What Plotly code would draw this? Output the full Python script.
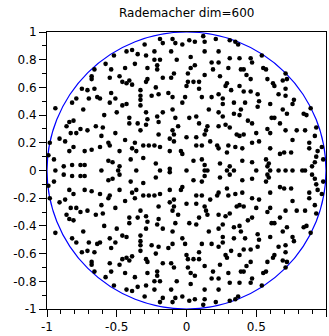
import plotly.graph_objects as go

# The matrix is real, so the spectrum is symmetric: each one has a conjugate below the axis.
re_upper = [
    -0.43, -0.39, -0.52, -0.58, -0.66, -0.54, -0.44, -0.68, -0.68, -0.55, -0.48, -0.46,
    -0.43, -0.41, -0.39, -0.75, -0.71, -0.66, -0.54, -0.64, -0.62, -0.79, -0.70, -0.51,
    -0.30, -0.19, -0.17, -0.10, -0.08, -0.03, 0.02, 0.06, 0.12, 0.13, 0.21, 0.31,
    -0.23, -0.11, 0.13, 0.23, -0.35, -0.29, 0.03, -0.23, -0.19, -0.21, -0.07, 0.31,
    -0.37, -0.28, 0.06, 0.03, 0.18, 0.23, -0.21, 0.19, -0.09, -0.11, -0.17, 0.01,
    0.13, 0.24, -0.28, -0.29, 0.01, 0.05, 0.09, 0.00, 0.29, 0.28, -0.22, -0.33,
    0.09, -0.13, -0.33, -0.20, -0.25, -0.10, -0.01, 0.11, 0.18, 0.23, 0.26, -0.33,
    0.35, 0.37, 0.54, 0.38, 0.46, 0.47, 0.30, 0.39, 0.41, 0.55, 0.57, 0.43,
    0.46, 0.71, 0.58, 0.62, 0.63, 0.69, 0.72, 0.38, 0.32, 0.41, 0.46, 0.51,
    0.66, 0.71, 0.71, 0.77,
    -0.82, -0.94, -0.55, -0.46, -0.43, -0.74, -0.50, -0.59, -0.81, -0.84, -0.86, -0.41,
    -0.41, -0.65, -0.60, -0.76, -0.71, -0.83, -0.79, -0.51, -0.91, -0.87, -0.61, -0.44,
    -0.98, -0.56, -0.55, -0.81, -0.84, -0.73, -0.68, -0.62, -0.48, -0.39, -0.99, -0.95,
    -0.56, -0.53, -0.40, -0.88, -0.82, -0.76, -0.73, -0.48,
    -0.33, -0.03, 0.26, -0.29, -0.17, -0.21, -0.20, -0.28, -0.10, -0.08, 0.02, 0.07,
    0.16, 0.23, 0.26, -0.35, -0.29, -0.33, -0.06, 0.09, 0.15, 0.23, 0.28, 0.31,
    -0.10, -0.09, -0.12, -0.09, -0.20, 0.00, 0.07, 0.13, 0.14, 0.17, -0.37, -0.31,
    -0.27, -0.23, -0.19, 0.07, 0.11, 0.22, 0.23, -0.36, -0.12, -0.04, -0.03, 0.29,
    -0.31, 0.05, 0.11, 0.24, 0.13, -0.22, 0.31, -0.12,
    0.34, 0.42, 0.52, 0.60, 0.76, 0.34, 0.39, 0.38, 0.51, 0.69, 0.72, 0.84,
    0.86, 0.89, 0.44, 0.47, 0.61, 0.63, 0.67, 0.36, 0.38, 0.41, 0.50, 0.58,
    0.60, 0.71, 0.79, 0.85, 0.93, 0.47, 0.52, 0.76, 0.88, 0.92, 0.30, 0.35,
    0.40, 0.60, 0.67, 0.70, 0.75, 0.88, 0.94, 0.97, 0.40, 0.47, 0.57, 0.59,
    0.58, 0.90, 0.92, 0.98, 0.93,
]
im_upper = [
    0.86, 0.87, 0.83, 0.77, 0.73, 0.73, 0.74, 0.68, 0.66, 0.67, 0.68, 0.64,
    0.63, 0.65, 0.62, 0.59, 0.58, 0.59, 0.56, 0.53, 0.52, 0.52, 0.52, 0.52,
    0.91, 0.95, 0.92, 0.95, 0.92, 0.91, 0.94, 0.93, 0.97, 0.93, 0.95, 0.94,
    0.86, 0.86, 0.86, 0.86, 0.84, 0.83, 0.82, 0.80, 0.80, 0.76, 0.80, 0.81,
    0.77, 0.74, 0.76, 0.74, 0.78, 0.78, 0.73, 0.73, 0.70, 0.67, 0.67, 0.70,
    0.69, 0.68, 0.66, 0.64, 0.64, 0.64, 0.64, 0.61, 0.63, 0.61, 0.60, 0.58,
    0.59, 0.56, 0.54, 0.55, 0.54, 0.53, 0.53, 0.53, 0.53, 0.55, 0.52, 0.51,
    0.93, 0.91, 0.83, 0.81, 0.81, 0.78, 0.74, 0.73, 0.73, 0.74, 0.73, 0.69,
    0.66, 0.70, 0.66, 0.63, 0.61, 0.65, 0.66, 0.61, 0.58, 0.57, 0.57, 0.55,
    0.55, 0.54, 0.59, 0.51,
    0.49, 0.45, 0.49, 0.47, 0.48, 0.44, 0.42, 0.40, 0.36, 0.35, 0.32, 0.38,
    0.34, 0.32, 0.31, 0.30, 0.29, 0.27, 0.27, 0.27, 0.23, 0.21, 0.25, 0.22,
    0.20, 0.20, 0.18, 0.17, 0.14, 0.14, 0.15, 0.17, 0.14, 0.16, 0.11, 0.08,
    0.07, 0.06, 0.08, 0.03, 0.04, 0.04, 0.04, 0.03,
    0.47, 0.49, 0.48, 0.42, 0.42, 0.39, 0.35, 0.37, 0.44, 0.38, 0.38, 0.39,
    0.44, 0.42, 0.39, 0.34, 0.33, 0.29, 0.32, 0.34, 0.32, 0.32, 0.33, 0.31,
    0.29, 0.26, 0.23, 0.21, 0.26, 0.24, 0.24, 0.26, 0.29, 0.21, 0.20, 0.18,
    0.18, 0.18, 0.17, 0.18, 0.18, 0.18, 0.16, 0.14, 0.14, 0.14, 0.12, 0.13,
    0.09, 0.07, 0.08, 0.05, 0.04, 0.05, 0.03, 0.012,
    0.49, 0.49, 0.50, 0.48, 0.48, 0.41, 0.44, 0.40, 0.46, 0.44, 0.41, 0.41,
    0.40, 0.45, 0.36, 0.34, 0.38, 0.38, 0.34, 0.26, 0.25, 0.26, 0.27, 0.30,
    0.27, 0.29, 0.29, 0.29, 0.31, 0.20, 0.21, 0.22, 0.20, 0.25, 0.18, 0.17,
    0.16, 0.16, 0.12, 0.13, 0.13, 0.16, 0.14, 0.17, 0.07, 0.06, 0.08, 0.05,
    0.03, 0.03, 0.06, 0.08, 0.10,
]
# Real eigenvalues (on the horizontal axis)
re_real = [-0.94, -0.61, -0.49, -0.36, -0.19, 0.00, 0.13, 0.15, 0.29, 0.34,
           0.50, 0.60, 0.66, 0.71, 0.76, 0.83, 0.85]

title_text = "Rademacher dim=600"
x_ticks = [-1, -0.5, 0, 0.5, 1]
x_tick_text = ["-1", "-0.5", "0", "0.5", "1"]
y_ticks = [-1, -0.8, -0.6, -0.4, -0.2, 0, 0.2, 0.4, 0.6, 0.8, 1]
y_tick_text = ["-1", "-0.8", "-0.6", "-0.4", "-0.2", "0", "0.2", "0.4", "0.6", "0.8", "1"]

xs = re_upper + re_upper + re_real
ys = im_upper + [-v for v in im_upper] + [0.0] * len(re_real)

fig = go.Figure()
fig.add_trace(go.Scatter(
    x=xs, y=ys, mode="markers",
    marker=dict(color="black", size=4.6, line=dict(width=0)),
    hoverinfo="skip", showlegend=False, cliponaxis=False,
))

# unit circle
fig.add_shape(type="circle", xref="x", yref="y", x0=-1, y0=-1, x1=1, y1=1,
              line=dict(color="#0000ff", width=1.2), layer="below")

font_family = "DejaVu Sans, sans-serif"
fig.update_layout(
    width=329, height=336,
    margin=dict(l=47, r=2, t=32, b=22, pad=0),
    paper_bgcolor="white", plot_bgcolor="white",
    title=dict(text=title_text, x=0.5675, xanchor="center", y=0.962, yanchor="middle",
               font=dict(family=font_family, size=12, color="black")),
    font=dict(family=font_family, size=12, color="black"),
    showlegend=False,
)
fig.update_xaxes(
    range=[-1, 1], showgrid=False, zeroline=False,
    showline=True, linecolor="black", linewidth=1, mirror=True,
    ticks="outside", ticklen=7, tickwidth=1, tickcolor="black",
    tickvals=x_ticks, ticktext=x_tick_text,
    minor=dict(dtick=0.1, ticks="outside", ticklen=4, tickcolor="black", showgrid=False),
    tickfont=dict(family=font_family, size=12, color="black"),
)
fig.update_yaxes(
    range=[-1, 1], showgrid=False, zeroline=False,
    showline=True, linecolor="black", linewidth=1, mirror=True,
    ticks="outside", ticklen=7, tickwidth=1, tickcolor="black",
    tickvals=y_ticks, ticktext=y_tick_text,
    minor=dict(dtick=0.1, ticks="outside", ticklen=4, tickcolor="black", showgrid=False),
    tickfont=dict(family=font_family, size=12, color="black"),
)

fig.write_html("out.html")
